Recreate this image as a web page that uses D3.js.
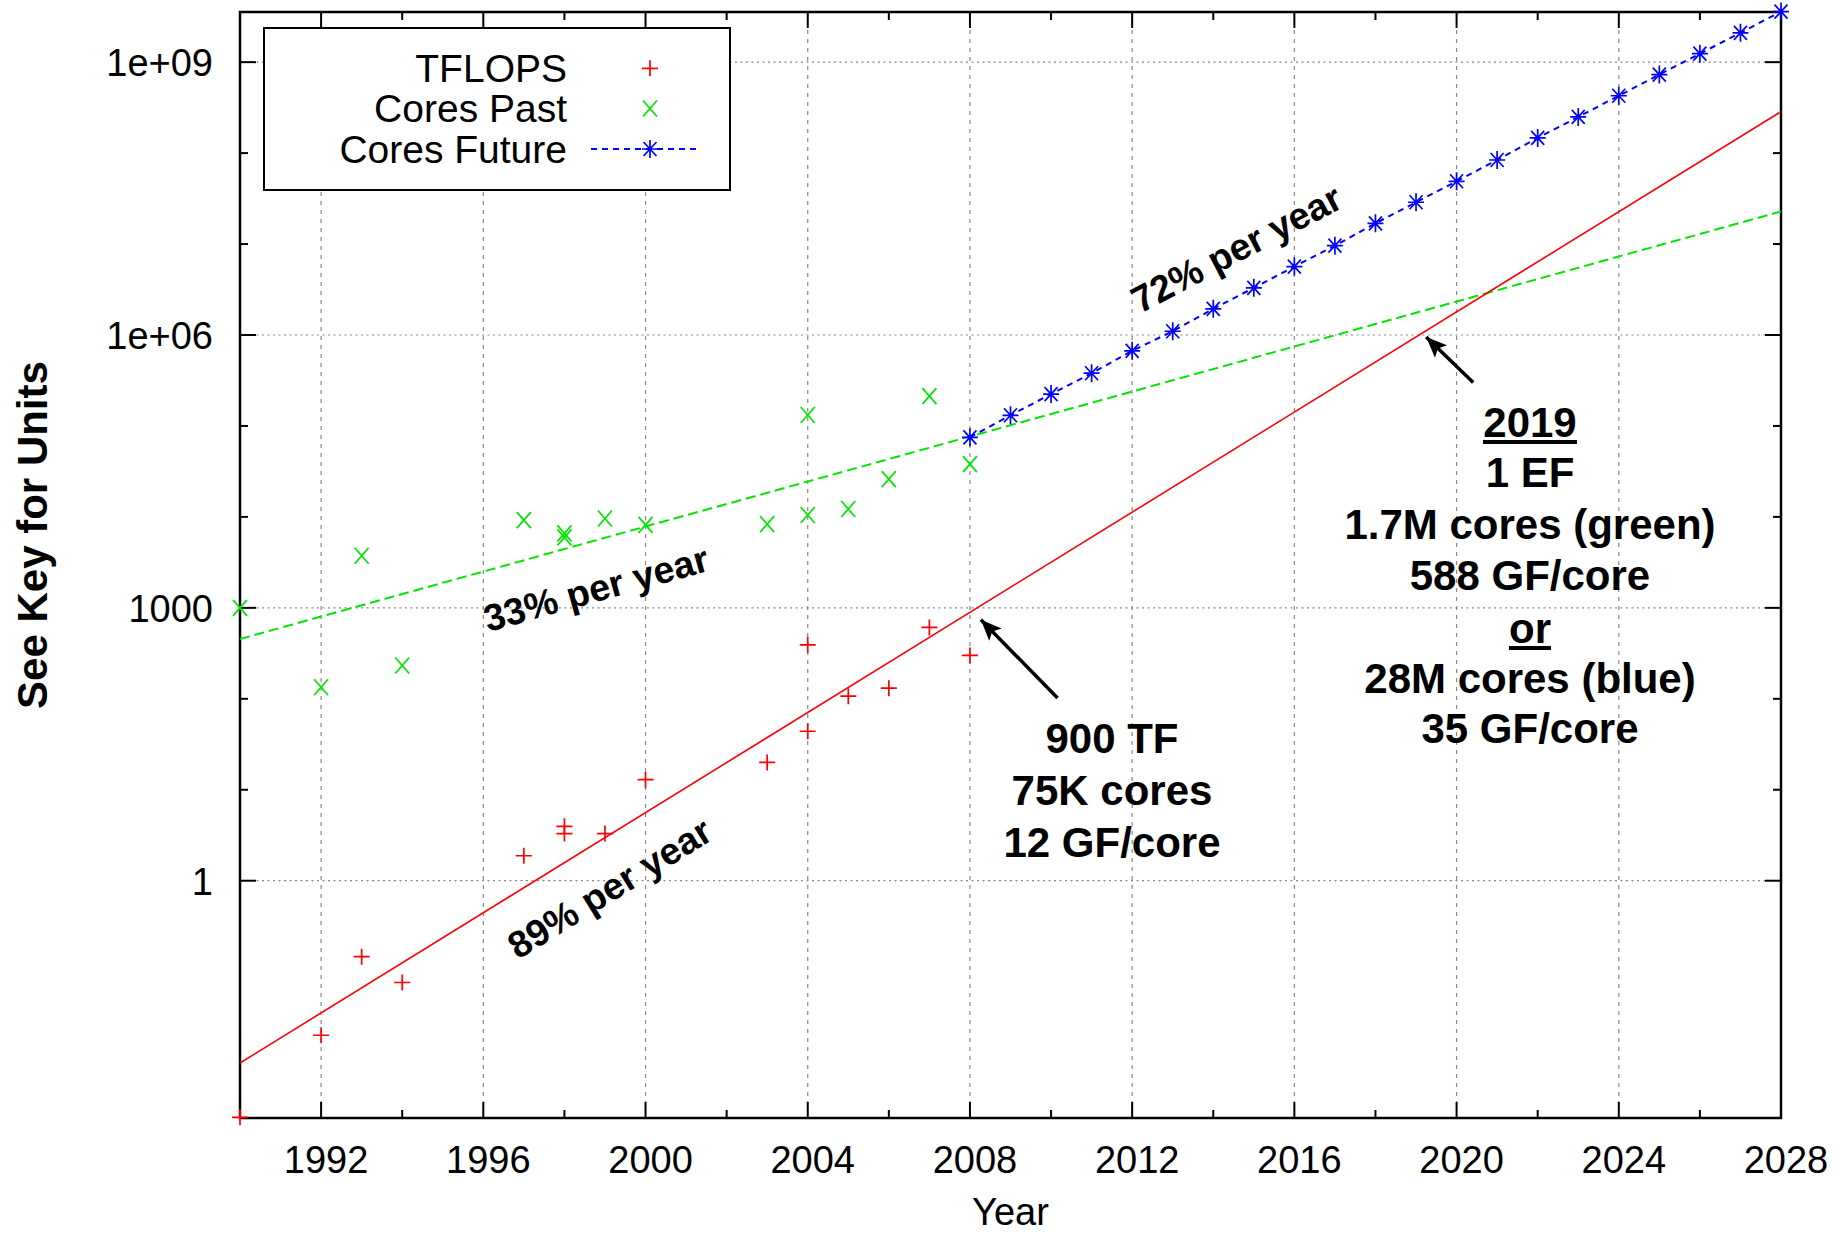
<!DOCTYPE html>
<html>
<head>
<meta charset="utf-8">
<script src="https://cdn.jsdelivr.net/npm/d3@7"></script>
<style>
body{margin:0;background:#fff}
text{font-family:"Liberation Sans",Arial,Helvetica,sans-serif;fill:#000}
</style>
</head>
<body>
<div id="chart"></div>
<script>
// TFLOPS, red +
var tflopsYears  = [1990,1992,1993,1994,1997,1998,1998,1999,2000,2003,2004,2004,2005,2006,2007,2008]
var tflopsValues = [0.0025,0.02,0.146,0.076,1.88,3.96,3.3,3.3,12.9,20,392,44,107,131,610,300]

// Cores Past, green x
var pastYears  = [1990,1992,1993,1994,1997,1998,1998,1999,2000,2003,2004,2004,2005,2006,2007,2008]
var pastValues = [1000,134,3740,232,9230,6590,5960,9620,8180,8330,132000,10500,12200,26000,213000,38000]

// Cores Future, blue *
var futureYears  = [2008,2009,2010,2011,2012,2013,2014,2015,2016,2017,2018,2019,2020,2021,2022,2023,2024,2025,2026,2027,2028]
var futureValues = [7.5e4,1.31e5,2.24e5,3.8e5,6.7e5,1.1e6,1.94e6,3.3e6,5.65e6,9.6e6,1.69e7,2.88e7,4.9e7,8.4e7,1.47e8,2.5e8,4.27e8,7.3e8,1.24e9,2.1e9,3.6e9]

// fit lines, read at the two plot edges
var fitYears   = [1990,2028]
var tflopsFit  = [0.0099,2.86e8]
var coresFit   = [454,2.28e7]

var xTicks = [1992,1996,2000,2004,2008,2012,2016,2020,2024,2028]
var xTickLabels = ["1992","1996","2000","2004","2008","2012","2016","2020","2024","2028"]
var xMinor = [1994,1998,2002,2006,2010,2014,2018,2022,2026]
var yTicks = [1,1000,1e6,1e9]
var yTickLabels = ["1","1000","1e+06","1e+09"]
var yMinor = [10,100,1e4,1e5,1e7,1e8]

var legendNames = ["TFLOPS","Cores Past","Cores Future"]

var RED = "#ff0000", GREEN = "#00e600", BLUE = "#0000ff"

var svg = d3.select("#chart").append("svg")
    .attr("width",1835).attr("height",1235)
    .style("background-color","#fff")

var X = d3.scaleLinear().domain([1990,2028]).range([240,1781])
var Y = d3.scaleLog().domain([0.00246,3.56e9]).range([1118,12])

// (window.top is taken, so pTop etc)
var pLeft = X.range()[0], pRight = X.range()[1], pTop = Y.range()[1], pBottom = Y.range()[0]

// grid
svg.append("g").selectAll("line").data(xTicks.slice(0,-1)).join("line")
    .attr("x1",d=>X(d)).attr("x2",d=>X(d)).attr("y1",pTop).attr("y2",pBottom)
    .attr("stroke","#888").attr("stroke-width",1.2).attr("stroke-dasharray","4,5")
svg.append("g").selectAll("line").data(yTicks).join("line")
    .attr("x1",pLeft).attr("x2",pRight).attr("y1",d=>Y(d)).attr("y2",d=>Y(d))
    .attr("stroke","#888").attr("stroke-width",1.2).attr("stroke-dasharray","2,3.5")

// ticks on all 4 sides, pointing in
var tk = svg.append("g").attr("stroke","#000").attr("stroke-width",2)
function xt(vals,len){
    vals.forEach(function(v){
        tk.append("line").attr("x1",X(v)).attr("x2",X(v)).attr("y1",pBottom).attr("y2",pBottom-len)
        tk.append("line").attr("x1",X(v)).attr("x2",X(v)).attr("y1",pTop).attr("y2",pTop+len)
    })
}
function yt(vals,len){
    vals.forEach(function(v){
        tk.append("line").attr("x1",pLeft).attr("x2",pLeft+len).attr("y1",Y(v)).attr("y2",Y(v))
        tk.append("line").attr("x1",pRight).attr("x2",pRight-len).attr("y1",Y(v)).attr("y2",Y(v))
    })
}
xt(xTicks,16); xt(xMinor,8); yt(yTicks,16); yt(yMinor,8)

// border
svg.append("rect").attr("x",pLeft).attr("y",pTop).attr("width",pRight-pLeft).attr("height",pBottom-pTop)
    .attr("fill","none").attr("stroke","#000").attr("stroke-width",2.5)

// tick labels
svg.append("g").selectAll("text").data(xTicks).join("text")
    .attr("x",d=>X(d)+5).attr("y",1173).attr("text-anchor","middle")
    .style("font-size","38px").text((d,i)=>xTickLabels[i])
svg.append("g").selectAll("text").data(yTicks).join("text")
    .attr("x",213).attr("y",d=>Y(d)+13.8).attr("text-anchor","end")
    .style("font-size","38px").text((d,i)=>yTickLabels[i])

svg.append("text").attr("x",(pLeft+pRight)/2).attr("y",1225).attr("text-anchor","middle")
    .style("font-size","38px").text("Year")
svg.append("text").attr("transform","translate(47,535) rotate(-90)").attr("text-anchor","middle")
    .style("font-size","42px").style("font-weight","bold").text("See Key for Units")

// fit lines
var line = d3.line().x(d=>X(d[0])).y(d=>Y(d[1]))
svg.append("path").datum(fitYears.map((y,i)=>[y,coresFit[i]]))
    .attr("d",line).attr("fill","none").attr("stroke",GREEN).attr("stroke-width",2).attr("stroke-dasharray","10,5")
svg.append("path").datum(fitYears.map((y,i)=>[y,tflopsFit[i]]))
    .attr("d",line).attr("fill","none").attr("stroke",RED).attr("stroke-width",1.6)

// future cores linespoints
svg.append("path").datum(futureYears.map((y,i)=>[y,futureValues[i]]))
    .attr("d",line).attr("fill","none").attr("stroke",BLUE).attr("stroke-width",2).attr("stroke-dasharray","6,5")

var PLUS = "M-8,0H8M0,-8V8"
var CROSS = "M-7,-8L7,8M-7,8L7,-8"
var STAR = "M-8,0H8M0,-9V9M-6.5,-7L6.5,7M-6.5,7L6.5,-7"

function pts(years,vals,shape,col){
    svg.append("g").selectAll("path").data(years).join("path")
        .attr("transform",(d,i)=>"translate("+X(d)+","+Y(vals[i])+")")
        .attr("d",shape).attr("fill","none").attr("stroke",col).attr("stroke-width",1.7)
}
pts(tflopsYears,tflopsValues,PLUS,RED)
pts(pastYears,pastValues,CROSS,GREEN)
pts(futureYears,futureValues,STAR,BLUE)

// legend
var lg = svg.append("g")
lg.append("rect").attr("x",264).attr("y",28).attr("width",466).attr("height",162)
    .attr("fill","#fff").attr("stroke","#000").attr("stroke-width",2)
var rowY = [68.3,108.5,149]
var shapes = [PLUS,CROSS,STAR], cols = [RED,GREEN,BLUE]
legendNames.forEach(function(n,i){
    lg.append("text").attr("x",567).attr("y",rowY[i]+13.6).attr("text-anchor","end")
        .style("font-size","39px").text(n)
    if(i==2){
        lg.append("line").attr("x1",591).attr("x2",700).attr("y1",rowY[i]).attr("y2",rowY[i])
            .attr("stroke",BLUE).attr("stroke-width",2).attr("stroke-dasharray","6,5")
    }
    lg.append("path").attr("transform","translate(650,"+rowY[i]+")").attr("d",shapes[i])
        .attr("fill","none").attr("stroke",cols[i]).attr("stroke-width",1.7)
})

// rate labels
function rate(x,y,a,t){
    svg.append("text").attr("transform","translate("+x+","+y+") rotate("+a+")")
        .style("font-size","37.5px").style("font-weight","bold").text(t)
}
rate(488,632,-15.5,"33% per year")
rate(518,960,-31.7,"89% per year")
rate(1140,314,-27.7,"72% per year")

// arrows
svg.append("defs").append("marker").attr("id","head")
    .attr("markerUnits","userSpaceOnUse").attr("markerWidth",24).attr("markerHeight",24)
    .attr("viewBox","-20 -10 22 20").attr("refX",0).attr("refY",0).attr("orient","auto")
    .append("path").attr("d","M0,0L-19,-8L-15,0L-19,8Z").attr("fill","#000")
var arrows = [[2010.16,102,2008.27,740],[2020.41,3.0e5,2019.25,9.5e5]]
arrows.forEach(function(a){
    svg.append("line").attr("x1",X(a[0])).attr("y1",Y(a[1])).attr("x2",X(a[2])).attr("y2",Y(a[3]))
        .attr("stroke","#000").attr("stroke-width",3.5).attr("marker-end","url(#head)")
})

// annotation blocks
function block(cx,ys,lines){
    lines.forEach(function(t,i){
        svg.append("text").attr("x",cx).attr("y",ys[i]).attr("text-anchor","middle")
            .style("font-size","42px").style("font-weight","bold").text(t)
    })
}
block(1112,[753,805,857],["900 TF","75K cores","12 GF/core"])
var rlines = ["2019","1 EF","1.7M cores (green)","588 GF/core","or","28M cores (blue)","35 GF/core"]
var rys = [437,487,539,590,643,693,743]
block(1530,rys,rlines)
// underlines for 2019 and or
;[0,4].forEach(function(i){
    var w = i==0 ? 94 : 42
    svg.append("line").attr("x1",1530-w/2).attr("x2",1530+w/2).attr("y1",rys[i]+5).attr("y2",rys[i]+5)
        .attr("stroke","#000").attr("stroke-width",4)
})
</script>
</body>
</html>
